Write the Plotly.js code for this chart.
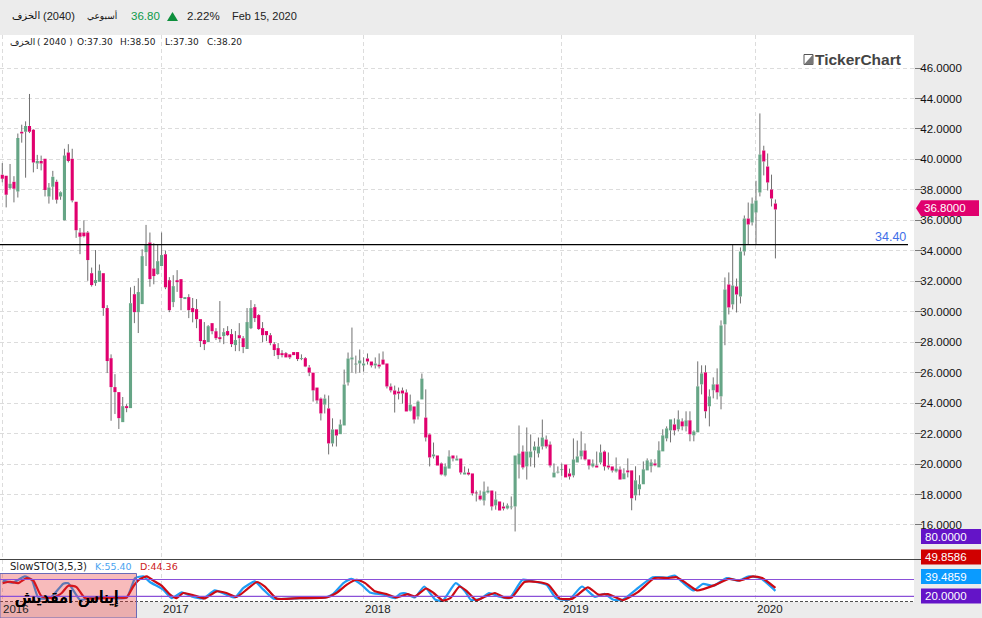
<!DOCTYPE html>
<html><head><meta charset="utf-8">
<script src="https://cdn.plot.ly/plotly-3.0.1.min.js"></script>
<style>html,body{margin:0;padding:0;background:#ececec}#c{width:982px;height:618px}</style>
</head><body><div id="c"></div>
<script>
const opens=[39.0,38.93,38.12,38.54,37.9,41.82,41.82,42.2,41.95,39.73,
39.9,40.05,37.57,38.2,38.54,37.57,36.0,40.45,40.05,37.22,
35.2,35.2,35.2,32.53,31.88,31.96,32.53,30.24,26.95,25.05,
24.72,22.75,23.8,23.67,31.15,29.97,30.5,33.9,34.55,32.84,
32.47,33.0,33.78,32.07,30.63,32.07,32.14,30.83,30.96,30.24,
30.17,29.51,28.14,28.0,29.25,28.72,28.33,28.4,28.73,28.53,
27.81,28.46,28.26,27.55,28.92,30.3,29.78,28.92,28.73,28.46,
27.87,27.61,27.28,27.28,27.2,27.35,27.35,26.89,26.95,26.34,
26.0,25.02,24.3,23.9,23.65,21.35,22.27,21.96,22.53,25.35,
26.86,26.53,26.6,26.47,26.93,26.73,26.47,26.53,26.86,26.6,
25.09,24.83,24.76,24.83,24.7,23.5,23.78,23.12,24.24,23.05,
21.94,20.5,20.56,20.04,19.25,19.7,20.56,20.23,20.36,19.31,
19.44,19.38,18.07,17.93,17.6,18.13,18.26,17.28,17.54,17.21,
17.08,17.15,17.21,19.97,20.82,19.84,20.43,20.89,20.69,21.15,
21.61,21.28,19.12,19.44,19.6,19.97,19.38,19.25,20.1,20.5,
20.89,20.3,19.84,19.9,20.1,20.82,19.9,19.84,19.51,19.64,
19.0,19.58,19.58,17.94,18.34,18.67,19.58,19.85,20.04,19.78,
20.83,21.68,22.21,22.6,22.28,22.8,22.47,22.87,21.88,22.08,
25.23,26.02,23.79,24.84,25.23,24.44,29.17,31.79,30.48,31.66,
31.0,33.96,36.12,35.86,36.52,37.83,40.59,39.54,38.03,37.1];
const closes=[38.73,37.68,38.4,38.08,41.4,41.71,42.2,41.82,39.8,39.9,
39.73,38.0,38.15,38.87,37.35,37.85,40.25,39.9,37.3,35.35,
34.92,34.95,33.39,31.75,32.08,32.7,30.24,26.76,25.05,24.72,
23.01,23.8,23.67,30.56,29.97,31.29,33.65,34.4,32.14,32.34,
33.32,33.72,31.6,30.1,31.68,31.94,30.9,30.96,30.1,29.97,
29.51,28.07,27.87,29.05,28.72,28.26,28.2,28.66,28.46,27.87,
28.14,28.26,27.68,29.32,30.24,29.58,28.86,28.46,28.46,27.94,
27.48,27.15,27.15,27.0,27.0,27.15,26.89,26.95,26.4,26.0,
24.83,24.17,23.32,24.3,21.35,22.27,21.87,22.6,25.22,26.93,
27.0,26.55,26.8,26.6,26.73,26.47,26.6,26.4,26.53,25.09,
24.83,24.56,24.63,24.63,23.45,23.9,22.92,24.1,25.61,21.74,
20.43,20.63,19.9,19.31,19.84,20.5,20.36,20.36,19.44,19.44,
19.31,18.07,18.07,17.67,18.2,18.26,17.21,17.67,16.95,17.08,
17.28,17.2,20.56,20.69,19.77,20.82,20.82,21.15,21.15,21.74,
21.15,19.9,19.44,19.5,19.64,19.12,19.18,20.3,20.5,20.89,
20.3,19.9,20.04,19.77,20.76,19.84,19.77,19.57,19.7,18.98,
19.39,19.45,17.75,18.93,18.67,19.65,20.24,20.11,19.91,20.9,
21.88,22.34,22.93,22.21,22.93,22.47,22.87,21.95,22.14,25.1,
25.95,23.46,24.44,25.23,24.7,29.1,31.46,30.28,31.72,31.13,
33.96,36.12,35.73,37.1,37.3,40.32,39.86,38.49,37.44,36.71];
const highs=[39.76,38.93,39.7,38.9,41.7,42.28,42.5,44.3,42.0,40.3,
40.25,40.05,38.45,39.25,38.67,37.9,40.7,41.0,40.7,37.22,
35.5,36.0,35.3,32.9,34.05,33.1,32.53,30.43,27.2,25.9,
24.72,24.4,23.93,31.6,31.7,32.2,34.1,35.7,35.2,34.5,
34.44,35.2,34.02,32.27,32.4,32.73,32.14,30.96,31.15,30.9,
30.83,29.51,29.32,29.12,29.25,28.92,30.7,28.92,29.05,28.86,
28.73,29.25,28.4,30.24,30.76,30.5,29.84,29.32,28.73,28.6,
28.0,27.94,27.48,27.35,27.2,27.35,27.35,27.2,27.02,26.5,
26.0,25.02,24.37,24.56,24.5,23.0,22.27,22.92,26.2,27.32,
28.96,27.12,27.52,27.0,27.26,26.73,27.0,27.26,27.39,26.6,
25.29,25.15,25.02,25.02,24.9,24.56,23.78,24.17,25.94,24.9,
22.0,21.41,20.56,20.1,20.04,20.9,20.56,20.56,20.36,19.84,
19.7,19.38,18.26,18.26,18.85,18.52,18.26,18.2,17.54,17.47,
17.41,17.87,20.56,22.53,21.22,22.4,21.94,21.48,21.74,22.92,
21.87,21.48,20.04,19.84,20.03,19.97,19.7,21.68,21.54,22.14,
21.35,20.3,20.3,20.82,21.28,20.89,20.76,19.84,20.43,19.84,
19.72,20.37,19.58,19.85,19.26,20.17,20.37,20.31,20.31,21.49,
22.28,22.47,22.93,23.0,23.52,23.0,23.46,23.46,22.21,26.74,
26.48,26.48,24.9,25.69,26.28,29.43,32.25,32.58,34.4,32.18,
34.22,36.32,37.17,37.5,38.6,43.02,40.9,40.39,39.0,37.37];
const lows=[38.5,36.85,38.05,37.18,37.5,41.1,38.8,41.73,39.15,39.37,
39.28,37.57,37.1,37.35,37.1,37.35,35.98,39.8,37.18,34.85,
33.78,34.88,32.03,31.65,31.7,31.96,29.73,25.97,22.84,23.28,
22.3,22.75,23.4,23.67,29.25,28.6,30.5,33.0,31.64,31.8,
32.43,33.0,31.48,29.97,30.3,31.3,30.1,30.83,29.58,29.3,
28.92,27.68,27.48,28.0,28.52,28.14,28.0,27.87,28.4,27.68,
27.41,27.41,27.28,27.55,28.86,29.32,28.8,28.0,28.07,27.8,
27.09,26.89,27.0,27.0,26.89,27.15,26.76,26.82,26.36,25.77,
24.1,23.97,22.86,23.32,20.63,21.15,21.15,21.96,22.53,25.15,
26.0,25.94,26.0,26.07,26.53,26.34,26.27,26.27,26.53,24.96,
24.7,23.38,24.24,23.97,23.45,23.45,22.66,22.92,24.24,21.48,
19.84,20.36,19.9,19.25,19.18,19.7,20.17,20.23,19.31,19.31,
19.25,17.93,17.54,17.6,17.28,18.07,16.95,17.0,16.95,16.95,
17.02,17.02,15.57,19.05,19.64,18.98,19.84,19.77,20.43,20.95,
21.02,19.77,19.12,19.38,19.22,19.12,18.98,19.12,20.1,20.3,
20.23,19.64,19.77,19.77,19.97,19.57,19.64,19.44,19.44,18.98,
19.0,19.12,16.96,17.61,17.94,18.67,19.58,19.45,19.85,19.78,
20.83,21.49,21.42,21.88,22.14,22.21,22.14,21.49,21.49,22.08,
24.57,23.0,22.47,24.31,24.24,23.59,27.8,29.82,30.15,29.95,
30.54,33.69,34.4,35.66,34.4,37.57,38.95,37.96,36.91,33.5];

const kWeeks=[0.1,2.8,5.8,7.6,9.3,12.3,15.7,17,20,23.4,32,34.2,36.3,38,41.4,43.6,46.2,48.7,51.7,54.7,57.7,59.9,62,65,67.2,69.8,76.6,83.1,85.2,87.8,89.9,92.5,94.6,98.1,101.1,102.4,103.8,106.2,108.6,111.5,113.4,116.7,119.1,120.6,123,125.3,127.7,130.6,133.9,137.3,140.1,142.5,145.9,149.2,152.6,155,157.3,159.7,163.1,167.4,171.2,173.1,175,177.9,180.3,183.1,186.5,189.4,192.2,195.1,199];
const kValues=[76,69,91,79,14,14,65,67,8,16,16,85,91,71,44,14,34,20,13,41,26,16,49,73,44,12,14,16,29,67,82,61,34,26,14,29,31,16,55,8,5,67,38,8,11,32,20,14,79,71,61,14,8,55,18,29,8,8,44,88,87,94,71,41,64,58,85,76,91,85,39.49];
const dWeeks=[0.1,2,4.1,6.3,8,10.1,13.1,15.3,17,19.1,21.3,29.4,32,33.7,35.4,37.2,38.9,41,43.2,44.9,46.6,49.2,52.2,55.2,57.7,60.3,62.9,65.5,67.6,70.6,76.6,83.5,86,88.6,91.2,93.4,95.9,98.9,101.5,104.3,106.2,109.1,111,113.4,115.3,117.7,119.6,122,124.4,126.8,129.2,131.1,134.4,137.8,140.6,143.5,146.8,150.7,153.5,155.9,159.7,163.6,167.9,171.2,173.6,176,178.8,183.6,187,189.8,193.2,195.6,199];
const dValues=[67,72,67,85,76,20,14,32,58,53,14,16,16,55,81,91,76,58,26,14,32,24,13,38,32,18,44,71,55,12,14,16,32,61,79,67,38,28,16,28,20,48,32,5,14,55,38,6,20,32,16,16,71,71,61,12,12,52,26,28,7,35,85,85,88,67,41,61,82,76,91,85,49.86];

const priceTicks=[16,18,20,22,24,26,28,30,32,34,36,38,40,42,44,46];
const yearWeeks=[0,41,93,144,194];
const yearLabels=['2016','2017','2018','2019','2020'];
const supportLevel=34.40;
const lastPrice=36.80;
const stochLevels=[80,20];

const PINK='#e0006e',GREEN='#66a586',WICK='#707070';
const weeks=opens.map((_,i)=>i);
const wx=[],wy=[];
weeks.forEach(i=>{
  const t=Math.max(opens[i],closes[i]),b=Math.min(opens[i],closes[i]);
  if(highs[i]>t){wx.push(i,i,null);wy.push(highs[i],t,null);}
  if(lows[i]<b){wx.push(i,i,null);wy.push(b,lows[i],null);}
});
const traces=[
 {type:'bar',x:weeks,base:weeks.map(i=>Math.min(opens[i],closes[i])),
  y:weeks.map(i=>Math.max(Math.abs(closes[i]-opens[i]),0.06)),width:0.8,
  marker:{color:weeks.map(i=>closes[i]>opens[i]?GREEN:PINK),line:{width:0}},hoverinfo:'skip',xaxis:'x',yaxis:'y'},
 {type:'scatter',mode:'lines',x:wx,y:wy,line:{color:WICK,width:1},hoverinfo:'skip',connectgaps:false,xaxis:'x',yaxis:'y'},
 {type:'scatter',mode:'lines',x:kWeeks,y:kValues,line:{color:'#1f9df5',width:2.2,shape:'spline',smoothing:0.5},hoverinfo:'skip',xaxis:'x',yaxis:'y2'},
 {type:'scatter',mode:'lines',x:dWeeks,y:dValues,line:{color:'#cc0a14',width:2.2,shape:'spline',smoothing:0.5},hoverinfo:'skip',xaxis:'x',yaxis:'y2'}
];

const TOP=35,BOT=602,RIGHT=914,SEP=559.5;
const px=x=>x/RIGHT, py=y=>(BOT-y)/(BOT-TOP);
const anns=[];
const shapes=[];
function txt(text,x,y,size,color,extra){anns.push(Object.assign({text,x:px(x),y:py(y),xref:'paper',yref:'paper',xanchor:'left',xshift:-2,yanchor:'middle',showarrow:false,
  font:{family:'Liberation Sans, DejaVu Sans',size,color}},extra||{}));}
function tag(text,y,color){
  shapes.push({type:'rect',xref:'paper',yref:'paper',x0:px(921),x1:px(981),y0:py(y-7.5),y1:py(y+7.5),fillcolor:color,line:{width:0}});
  txt(text,925,y,11.5,'#fff',{font:{family:'Liberation Sans',size:11.5,color:'#fff'}});
}

const AR='DejaVu Sans, Noto Sans';
txt('الخزف',12,16,10,'#111',{font:{family:AR,size:10,color:'#111'}});
txt('(2040)',43,16,11,'#222');
txt('أسبوعي',87,16,9,'#111',{font:{family:AR,size:9,color:'#111'}});
txt('36.80',131,16,11.5,'#0d9a4a');
txt('2.22%',187,16,11.5,'#222');
txt('Feb 15, 2020',232,16,11,'#222');
txt('الخزف',10,42,10,'#222',{font:{family:AR,size:9,color:'#222'}});
const dj={family:'DejaVu Sans',size:9,color:'#222'};
txt('( 2040 )',37,42,10,'#222',{font:dj});
txt('O:37.30',77,42,10,'#222',{font:dj});
txt('H:38.50',120,42,10,'#222',{font:dj});
txt('L:37.30',165,42,10,'#222',{font:dj});
txt('C:38.20',207,42,10,'#222',{font:dj});
txt('TickerChart',815,59.5,15.5,'#444',{font:{family:'Liberation Sans',size:15.5,color:'#444',weight:700}});
txt('34.40',875,237,12.5,'#3f6fe8');
txt('SlowSTO(3,5,3)',10,566,10,'#222',{font:{family:'DejaVu Sans',size:10,color:'#222'}});
txt('K:55.40',95,566,10,'#4aa3f0',{font:{family:'DejaVu Sans',size:9.5,color:'#4aa3f0'}});
txt('D:44.36',140,566,10,'#cc2020',{font:{family:'DejaVu Sans',size:9.5,color:'#cc2020'}});
yearLabels.forEach((t,i)=>anns.push({text:t,x:yearWeeks[i],xref:'x',y:py(609),yref:'paper',xanchor:'left',xshift:-1,yanchor:'middle',showarrow:false,font:{family:'Liberation Sans',size:11.5,color:'#222'}}));
txt('إيناس امقديش',15,597,17,'#000',{font:{family:AR,size:17,color:'#000',shadow:'0.4px 0 0 #000, -0.4px 0 0 #000'}});
tag('80.0000',536.5,'#6414c8');
tag('49.8586',557,'#d00000');
tag('39.4859',576.5,'#0a9bff');
tag('20.0000',596,'#6414c8');
anns.push({text:'36.8000',x:px(921),y:lastPrice,xref:'paper',yref:'y',xanchor:'left',yanchor:'middle',xshift:1,showarrow:false,font:{family:'Liberation Sans',size:11.5,color:'#fff'}});

shapes.push(
 {type:'line',xref:'paper',yref:'y',x0:0,x1:px(908),y0:supportLevel,y1:supportLevel,line:{color:'#000',width:1.2}},
 {type:'path',xref:'paper',yref:'y',layer:'below',path:`M ${px(916)} ${lastPrice} L ${px(921)} ${lastPrice+0.52} L ${px(979)} ${lastPrice+0.52} L ${px(979)} ${lastPrice-0.52} L ${px(921)} ${lastPrice-0.52} Z`,fillcolor:PINK,line:{width:0}},
 {type:'line',xref:'paper',yref:'paper',x0:0,x1:px(921),y0:py(SEP),y1:py(SEP),line:{color:'#444',width:1}},
 {type:'line',xref:'paper',yref:'y2',x0:0,x1:1,y0:0.8,y1:0.8,line:{color:'#111',width:1,dash:'3px,2px'}},
 {type:'rect',xref:'paper',yref:'paper',x0:px(0),x1:px(136.5),y0:py(573.5),y1:py(618),fillcolor:'rgba(235,50,50,0.33)',line:{color:'#6a6ab8',width:1}},
 {type:'path',xref:'paper',yref:'paper',path:`M ${px(167)} ${py(21)} L ${px(172.5)} ${py(12)} L ${px(178)} ${py(21)} Z`,fillcolor:'#0d8f3c',line:{width:0}},
 {type:'rect',xref:'paper',yref:'paper',x0:px(804),x1:px(813),y0:py(64.5),y1:py(54.5),fillcolor:'#fff',line:{color:'#555',width:1}},
 {type:'path',xref:'paper',yref:'paper',path:`M ${px(804)} ${py(64.5)} L ${px(813)} ${py(54.5)} L ${px(813)} ${py(64.5)} Z`,fillcolor:'#777',line:{width:0}}
);
stochLevels.forEach(v=>shapes.push({type:'line',xref:'paper',yref:'y2',x0:0,x1:1,y0:v,y1:v,line:{color:'#8a50d8',width:1.2}}));

const grid={showgrid:true,gridcolor:'#dcdcdc',griddash:'4px,3px',gridwidth:1,zeroline:false};
const splitFrac=(BOT-SEP)/(BOT-TOP);
const layout={
 width:982,height:618,autosize:false,paper_bgcolor:'#ececec',plot_bgcolor:'#fff',
 margin:{l:0,r:982-RIGHT,t:TOP,b:618-BOT,pad:0},showlegend:false,hovermode:false,barmode:'overlay',
 xaxis:Object.assign({},grid,{domain:[0,1],range:[-0.59,234.67],tickmode:'array',tickvals:yearWeeks,showticklabels:false,ticks:'',anchor:'y2',fixedrange:true}),
 yaxis:Object.assign({},grid,{domain:[splitFrac,1],range:[13.73,48.17],side:'right',tickmode:'array',tickvals:priceTicks,tickformat:'.4f',ticks:'outside',ticklen:7,tickcolor:'#777',tickwidth:1,ticklabelstandoff:-4,
   tickfont:{family:'Liberation Sans',size:11.5,color:'#111'},anchor:'x',showline:false,fixedrange:true}),
 yaxis2:{domain:[0,splitFrac],range:[0,151],showgrid:false,zeroline:false,showticklabels:false,ticks:'',anchor:'x',fixedrange:true},
 annotations:anns,shapes:shapes
};
Plotly.newPlot('c',traces,layout,{displayModeBar:false,staticPlot:true});
</script></body></html>
